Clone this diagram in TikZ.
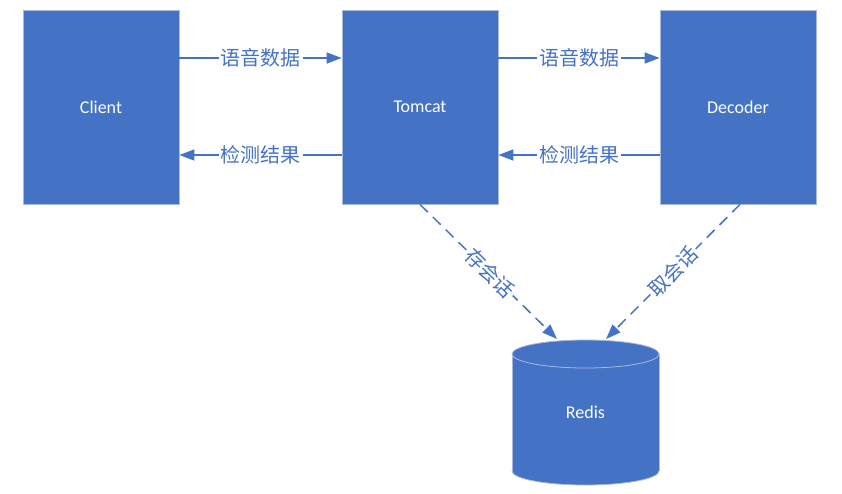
\documentclass[tikz,border=0pt]{standalone}
\usepackage{fontspec}
\setmainfont{Carlito}
\newfontfamily\cjk{Noto Sans CJK SC}
\usetikzlibrary{arrows.meta}
\definecolor{boxblue}{HTML}{4472C4}
\definecolor{edgegray}{RGB}{170,185,215}
\tikzset{
  boxnode/.style={rectangle, fill=boxblue, draw=edgegray, line width=0.8pt,
    minimum width=156pt, minimum height=194pt, text=white, font=\fontsize{18}{20}\selectfont},
  conn/.style={draw=boxblue, line width=1.5pt, -{Triangle[length=15pt,width=11pt]}},
  dconn/.style={conn, dash pattern=on 11pt off 7pt},
  lbl/.style={fill=white, text=boxblue, inner sep=2pt, font=\cjk\fontsize{20}{22}\selectfont}
}
\begin{document}
\begin{tikzpicture}[x=1pt,y=-1pt]
\useasboundingbox (0,0) rectangle (842,494);
\node[boxnode] (client) at (101,107) {Client};
\node[boxnode] (tomcat) at (420,107) {Tomcat};
\node[boxnode] (decoder) at (738,107) {Decoder};
% Redis cylinder
\fill[boxblue, draw=edgegray, line width=0.8pt] (585.5,471) ellipse [x radius=73.5, y radius=14];
\fill[boxblue] (512,354) rectangle (659,471);
\draw[edgegray, line width=0.8pt] (512,354) -- (512,471) (659,354) -- (659,471);
\fill[boxblue, draw=edgegray, line width=0.8pt] (585.5,354) ellipse [x radius=73.5, y radius=14];
\node[text=white, font=\fontsize{18}{20}\selectfont] (redis) at (585.5,412) {Redis};
\coordinate (rA) at (557,339);
\coordinate (rB) at (606,339);
% horizontal arrows
\draw[conn] ([yshift=49pt]client.east) -- node[lbl] {语音数据} ([yshift=49pt]tomcat.west);
\draw[conn] ([yshift=-48pt]tomcat.west) -- node[lbl] {检测结果} ([yshift=-48pt]client.east);
\draw[conn] ([yshift=49pt]tomcat.east) -- node[lbl] {语音数据} ([yshift=49pt]decoder.west);
\draw[conn] ([yshift=-48pt]decoder.west) -- node[lbl] {检测结果} ([yshift=-48pt]tomcat.east);
% dashed arrows
\draw[dconn] (tomcat.south) -- node[lbl, sloped, pos=0.51] {存会话} (rA);
\draw[dconn] ([xshift=2pt]decoder.south) -- node[lbl, sloped, pos=0.5] {取会话} (rB);
\end{tikzpicture}
\end{document}
